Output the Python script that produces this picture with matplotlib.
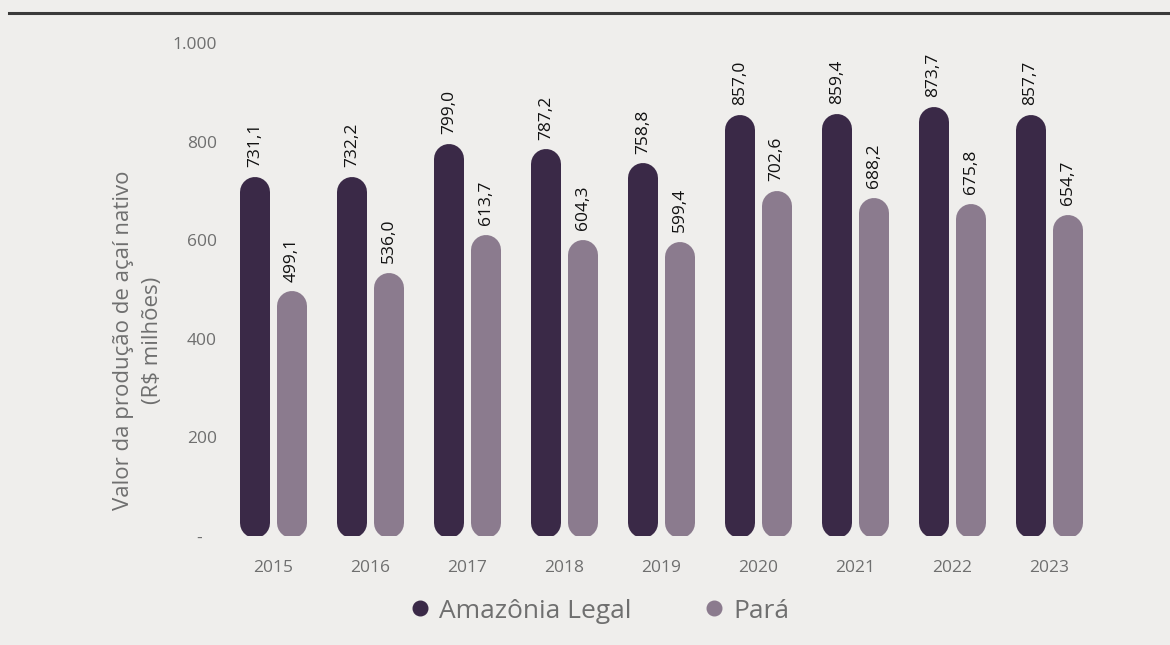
import numpy as np
import matplotlib.pyplot as plt
from matplotlib.lines import Line2D

years = ["2015", "2016", "2017", "2018", "2019", "2020", "2021", "2022", "2023"]
amazonia = [731.1, 732.2, 799.0, 787.2, 758.8, 857.0, 859.4, 873.7, 857.7]
para = [499.1, 536.0, 613.7, 604.3, 599.4, 702.6, 688.2, 675.8, 654.7]
series_names = ["Amazônia Legal", "Pará"]
yticks = [0, 200, 400, 600, 800, 1000]
ytick_labels = ["-   ", "200", "400", "600", "800", "1.000"]

DARK = "#3a2947"
LIGHT = "#8b7b8e"
GRAY = "#6f6f6f"
BG = "#efeeec"

plt.rcParams['font.family'] = ['Open Sans', 'DejaVu Sans']

W, H = 1170, 645
fig = plt.figure(figsize=(W / 100, H / 100), dpi=100, facecolor=BG)

# axes placed in pixel terms
left_px, right_px, top_px, bottom_px = 225, 1100, 43, 536
ax = fig.add_axes([left_px / W, 1 - bottom_px / H,
                   (right_px - left_px) / W, (bottom_px - top_px) / H])
ax.set_facecolor("none")

x = np.arange(len(years))
unit_px = 96.94
ax.set_xlim((left_px - 273.5) / unit_px, (right_px - 273.5) / unit_px)
ax.set_ylim(0, 1000)

bar_px = 30          # bar width in pixels
offset = 18.5 / unit_px
lw = bar_px * 72 / 100
r_data = (bar_px / 2) / ((bottom_px - top_px) / 1000)   # cap radius in data units

for i in range(len(years)):
    for vals, col, dx in [(amazonia, DARK, -offset), (para, LIGHT, offset)]:
        v = vals[i]
        ax.plot([x[i] + dx, x[i] + dx], [r_data - 5, v - r_data - 3],
                color=col, lw=lw, solid_capstyle="round")
        ax.text(x[i] + dx, v + 17, "{:.1f}".format(v).replace(".", ","),
                rotation=90, ha="center", va="bottom", fontsize=12.5,
                color="#111111")

for s in ax.spines.values():
    s.set_visible(False)
ax.set_xticks(x)
ax.set_xticklabels(years)
ax.set_yticks(yticks)
ax.set_yticklabels(ytick_labels)
ax.tick_params(length=0, labelsize=12.5, labelcolor=GRAY)
ax.tick_params(axis="x", pad=17)
ax.tick_params(axis="y", pad=6)

# y title, placed by hand (sits a bit below the axes centre)
fig.text(138 / W, 1 - 340 / H, "Valor da produção de açaí nativo\n(R$ milhões)",
         rotation=90, ha="center", va="center", fontsize=16, color=GRAY,
         linespacing=1.45, multialignment="center")

# top rule
fig.add_artist(Line2D([9 / W, 1], [1 - 13 / H, 1 - 13 / H], color="#3a3a3a", lw=2.2))

handles = [Line2D([], [], ls="", marker="o", ms=10.5, color=DARK),
           Line2D([], [], ls="", marker="o", ms=10.5, color=LIGHT)]
fig.legend(handles, series_names, loc="center", bbox_to_anchor=(598 / W, 1 - 611 / H),
           ncol=2, frameon=False, fontsize=19, labelcolor=GRAY,
           handletextpad=0.25, columnspacing=2.6, handlelength=1.0)

fig.savefig("out.png", dpi=100, facecolor=BG)
